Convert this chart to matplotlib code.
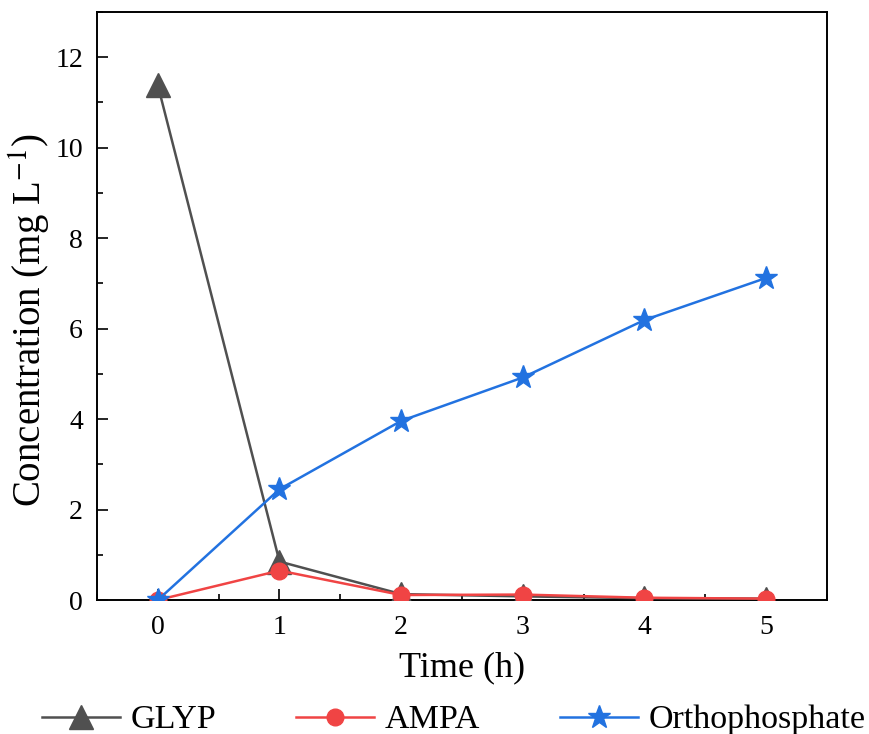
import numpy as np
import matplotlib.pyplot as plt
from matplotlib.ticker import MultipleLocator

# Data
time_h = [0, 1, 2, 3, 4, 5]
glyp = [11.38, 0.85, 0.13, 0.08, 0.04, 0.03]
ampa = [0.0, 0.65, 0.11, 0.12, 0.05, 0.03]
ortho = [0.0, 2.45, 3.96, 4.92, 6.19, 7.12]

plt.rcParams['font.family'] = ['Liberation Serif', 'DejaVu Serif']
plt.rcParams['mathtext.fontset'] = 'stix'

fig = plt.figure(figsize=(8.7, 7.34), dpi=100)
ax = fig.add_axes([97 / 870, 1 - 600 / 734, 730 / 870, 588 / 734])

ax.plot(time_h, glyp, color='#505050', lw=1.8, marker='^', markersize=17,
        label='GLYP', zorder=3)
ax.plot(time_h, ampa, color='#f04444', lw=1.8, marker='o', markersize=12,
        label='AMPA', zorder=4)
ax.plot(time_h, ortho, color='#2272e0', lw=1.8, marker='*', markersize=17,
        label='Orthophosphate', zorder=5)

ax.set_xlim(-0.5, 5.5)
ax.set_ylim(0, 13)
ax.xaxis.set_major_locator(MultipleLocator(1))
ax.xaxis.set_minor_locator(MultipleLocator(0.5))
ax.yaxis.set_major_locator(MultipleLocator(2))
ax.yaxis.set_minor_locator(MultipleLocator(1))
ax.tick_params(which='both', direction='in', labelsize=20, width=1.2)
ax.tick_params(which='major', length=8)
ax.tick_params(which='minor', length=4)
ax.tick_params(axis='y', pad=10)
ax.tick_params(axis='x', pad=11)
for sp in ax.spines.values():
    sp.set_linewidth(1.4)

ax.set_xlabel('Time (h)', fontsize=26)
ax.set_ylabel(r'Concentration (mg L$^{-1}$)', fontsize=28)
ax.xaxis.set_label_coords(0.5, -0.088)
ax.yaxis.set_label_coords(-0.060, 0.476)

fig.legend(loc='center', bbox_to_anchor=(453.5 / 870, 1 - 720 / 734), ncol=3,
           frameon=False, fontsize=24.5, handlelength=2.3, columnspacing=2.35,
           handletextpad=0.3, borderpad=0, borderaxespad=0)

fig.savefig('out.png', dpi=100)
